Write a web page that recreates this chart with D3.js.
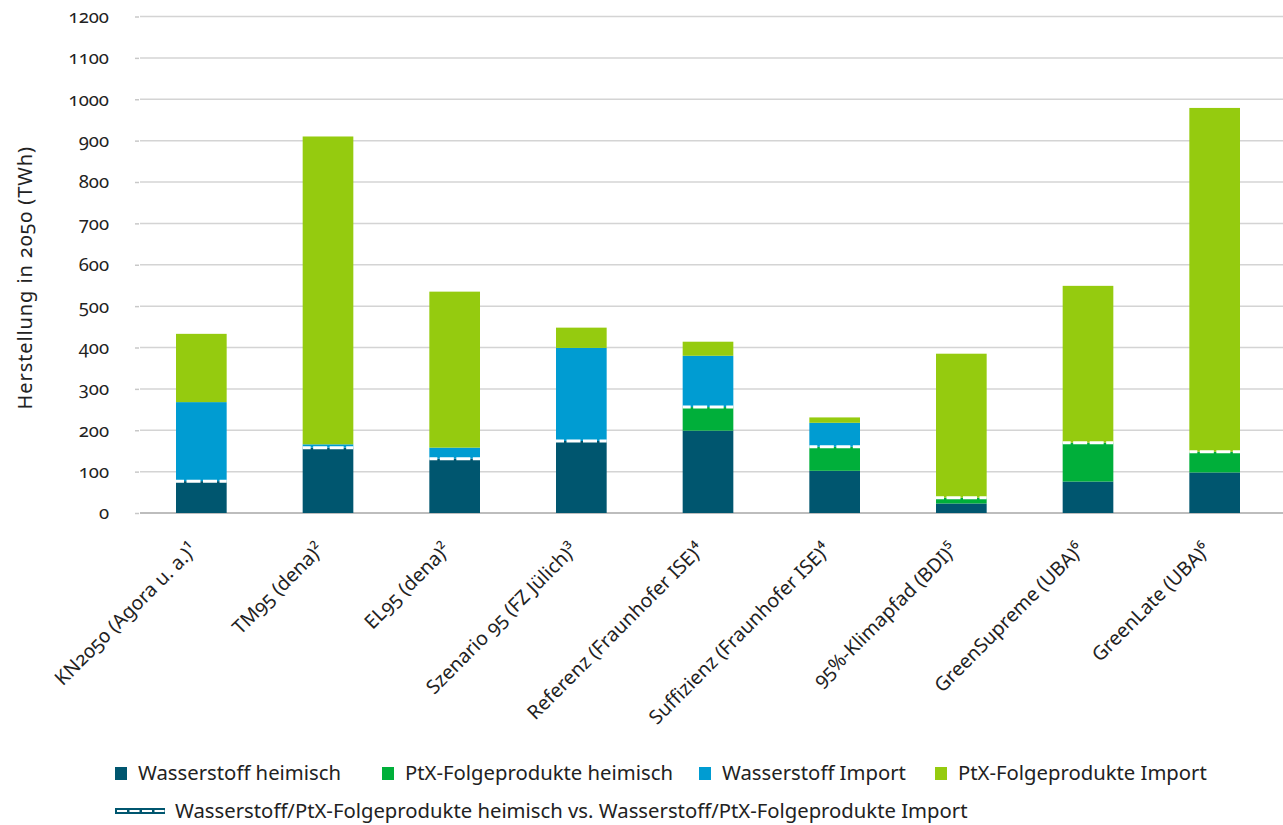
<!DOCTYPE html>
<html>
<head>
<meta charset="utf-8">
<script src="https://cdn.jsdelivr.net/npm/d3@7"></script>
<style>
  body { margin: 0; background: #fff; }
  svg text { font-family: "Noto Sans", "Open Sans", sans-serif; fill: #222; font-variant-numeric: oldstyle-nums; }
</style>
</head>
<body>
<script>
// scenarios (x categories)
const scenarios = [
  "KN2050 (Agora u. a.)¹",
  "TM95 (dena)²",
  "EL95 (dena)²",
  "Szenario 95 (FZ Jülich)³",
  "Referenz (Fraunhofer ISE)⁴",
  "Suffizienz (Fraunhofer ISE)⁴",
  "95%-Klimapfad (BDI)⁵",
  "GreenSupreme (UBA)⁶",
  "GreenLate (UBA)⁶"
];

// values in TWh
const h2Domestic = [77, 158, 131, 174, 199, 102, 23, 76, 98];
const ptxDomestic = [0, 0, 0, 0, 57, 58, 14, 94, 50];
const h2Import = [191, 8, 27, 225, 124, 58, 0, 0, 0];
const ptxImport = [165, 744, 377, 49, 34, 13, 348, 379, 831];

const seriesNames = [
  "Wasserstoff heimisch",
  "PtX-Folgeprodukte heimisch",
  "Wasserstoff Import",
  "PtX-Folgeprodukte Import"
];
const colors = ["#00566f", "#00af3a", "#009cd2", "#95cb0f"];
const yTicks = [0, 100, 200, 300, 400, 500, 600, 700, 800, 900, 1000, 1100, 1200];
const yLabel = "Herstellung in 2050 (TWh)";
const sepLabel = "Wasserstoff/PtX-Folgeprodukte heimisch vs. Wasserstoff/PtX-Folgeprodukte Import";

const W = 1283, H = 825;
const svg = d3.select("body").append("svg").attr("width", W).attr("height", H);

// build table for the stack
const keys = ["h2d", "ptxd", "h2i", "ptxi"];
const table = scenarios.map((s, i) => ({
  name: s,
  h2d: h2Domestic[i],
  ptxd: ptxDomestic[i],
  h2i: h2Import[i],
  ptxi: ptxImport[i]
}));
const stacked = d3.stack().keys(keys)(table);

const x = d3.scaleBand().domain(scenarios).range([138, 1278]).paddingInner(0.6).paddingOuter(0.3);
const y = d3.scaleLinear().domain([0, 1200]).range([513, 16.5]);

// gridlines
svg.append("g")
  .selectAll("line")
  .data(yTicks)
  .join("line")
  .attr("x1", 140)
  .attr("x2", W)
  .attr("y1", d => y(d))
  .attr("y2", d => y(d))
  .attr("stroke", d => d === 0 ? "#bdbdbd" : "#d4d4d4")
  .attr("stroke-width", d => d === 0 ? 2 : 1.5);

// y axis labels + little ticks
const yAxis = svg.append("g")
  .attr("transform", "translate(140,0)")
  .call(d3.axisLeft(y).tickValues(yTicks).tickSize(5).tickPadding(26).tickFormat(d3.format("d")));
yAxis.select(".domain").remove();
yAxis.selectAll(".tick line").attr("stroke", "#c8c8c8").attr("stroke-width", 1.5).attr("x1", -5).attr("x2", -1);
yAxis.selectAll(".tick text").style("font-size", "18.5px").attr("fill", "#222");

svg.append("text")
  .attr("transform", `translate(32,${y(600) + 13}) rotate(-90)`)
  .attr("text-anchor", "middle")
  .style("font-size", "20px")
  .style("letter-spacing", "0.9px")
  .text(yLabel);

// bars
svg.append("g")
  .selectAll("g")
  .data(stacked)
  .join("g")
  .attr("fill", (d, i) => colors[i])
  .selectAll("rect")
  .data(d => d)
  .join("rect")
  .attr("x", d => x(d.data.name))
  .attr("width", x.bandwidth())
  .attr("y", d => y(d[1]))
  .attr("height", d => y(d[0]) - y(d[1]));

// heimisch vs import separator
svg.append("g")
  .selectAll("line")
  .data(table)
  .join("line")
  .attr("x1", d => x(d.name))
  .attr("x2", d => x(d.name) + x.bandwidth())
  .attr("y1", d => y(d.h2d + d.ptxd))
  .attr("y2", d => y(d.h2d + d.ptxd))
  .attr("stroke", "#fff")
  .attr("stroke-width", 3)
  .attr("stroke-dasharray", "14,2.5")
  .attr("stroke-dashoffset", 6);

// x labels
svg.append("g")
  .selectAll("text")
  .data(scenarios)
  .join("text")
  .attr("transform", d => `translate(${x(d) + x.bandwidth() / 2 - 3},${551}) rotate(-45)`)
  .attr("text-anchor", "end")
  .style("font-size", "19.5px")
  .text(d => d);

// legend
const legendX = [115, 382, 699, 935];
const legend = svg.append("g");
seriesNames.forEach((n, i) => {
  legend.append("rect")
    .attr("x", legendX[i]).attr("y", 767)
    .attr("width", 12).attr("height", 13)
    .attr("fill", colors[i]);
  legend.append("text")
    .attr("x", legendX[i] + 23).attr("y", 780)
    .style("font-size", "20.3px")
    .text(n);
});
legend.append("rect")
  .attr("x", 115).attr("y", 808).attr("width", 50).attr("height", 6)
  .attr("fill", colors[0]);
legend.append("line")
  .attr("x1", 115).attr("x2", 165).attr("y1", 811).attr("y2", 811)
  .attr("stroke", "#fff").attr("stroke-width", 2)
  .attr("stroke-dasharray", "10,2.5").attr("stroke-dashoffset", -2);
legend.append("text")
  .attr("x", 175).attr("y", 818)
  .style("font-size", "20.3px")
  .text(sepLabel);
</script>
</body>
</html>
